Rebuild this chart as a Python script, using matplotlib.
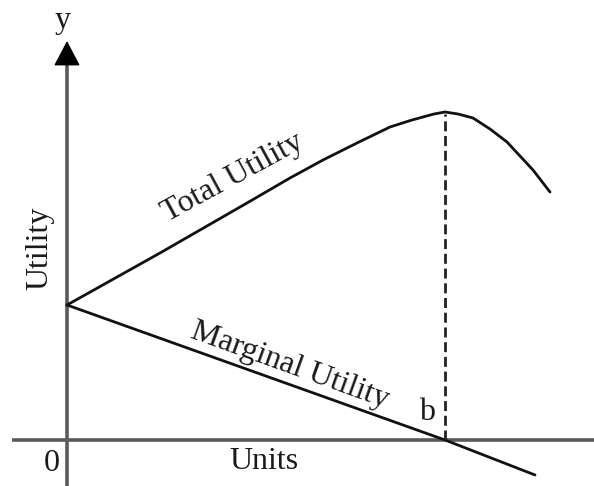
import matplotlib
matplotlib.use("Agg")
import matplotlib.pyplot as plt

# Data (units: x = quantity consumed, y = utility)
tu_x = [0, 93, 180, 223, 256, 290, 323, 345, 367, 378, 391, 406, 423, 440, 466, 483]
tu_y = [135, 187, 237, 262, 280, 297, 313, 320, 326, 328, 326, 322, 311, 298, 270, 248]
mu_x = [0, 378, 468]
mu_y = [135, 0, -35]
b_x = 378          # point b where MU = 0 and TU is at its maximum
tu_max = 328

axis_labels = {"x": "Units", "y": "Utility"}
curve_labels = ["Total Utility", "Marginal Utility"]

plt.rcParams['font.family'] = ['Liberation Serif', 'DejaVu Serif']

fig = plt.figure(figsize=(5.94, 4.86), dpi=100)
ax = fig.add_axes([0, 0, 1, 1])
ax.set_xlim(-67, 527)
ax.set_ylim(-46, 440)
ax.axis('off')

axis_col = '#5a5a5a'
# axes
ax.plot([-55, 527], [0, 0], color=axis_col, lw=2.6, solid_capstyle='butt')
ax.plot([0, 0], [-46, 385], color=axis_col, lw=2.6, solid_capstyle='butt')
ax.annotate('', xy=(0, 399), xytext=(0, 375),
            arrowprops=dict(arrowstyle='-|>,head_length=0.8,head_width=0.42',
                            color='black', lw=1, mutation_scale=20,
                            shrinkA=0, shrinkB=0))

# curves
ax.plot(tu_x, tu_y, color='#111111', lw=2.0, solid_capstyle='round',
        solid_joinstyle='round')
ax.plot(mu_x, mu_y, color='#111111', lw=2.0, solid_capstyle='round')
ax.plot([b_x, b_x], [0, tu_max - 2], color='#222222', lw=2.0,
        linestyle=(0, (3.6, 1.7)))

# texts
fs = 23
tc = '#1a1a1a'
ax.text(-4, 419, 'y', fontsize=fs, ha='center', va='center', color=tc)
ax.text(-27, 192, axis_labels["y"], fontsize=fs, rotation=90,
        ha='center', va='center', color=tc)
ax.text(-15, -23, '0', fontsize=fs, ha='center', va='center', color=tc)
ax.text(197, -21, axis_labels["x"], fontsize=fs, ha='center', va='center',
        color=tc)
ax.text(360, 28, 'b', fontsize=fs, ha='center', va='center', color=tc)
ax.text(166, 262, curve_labels[0], fontsize=fs, rotation=28.6,
        ha='center', va='center', color=tc)
ax.text(223, 74, curve_labels[1], fontsize=fs, rotation=-19.8,
        ha='center', va='center', color=tc)

fig.savefig('out.png', dpi=100, facecolor='white')
